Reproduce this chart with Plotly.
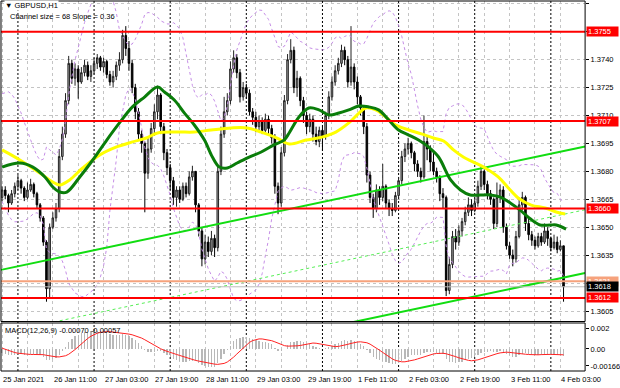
import numpy as np
import pandas as pd
import plotly.graph_objects as go

W, H = 620, 388
BASE = 1.3600
PIP = 0.0001
FONT = "Liberation Sans"

# ---------------- data (pips above 1.3600), hourly bars 25 Jan 19:00 .. 4 Feb 04:00
first_open_pips = 66
close_pips = [70, 67, 63, 68, 72, 75, 71, 66, 70, 73, 68, 62, 55, 42, 17, 50, 55, 60, 88, 100,
              118, 138, 130, 135, 128, 133, 137, 131, 134, 138, 141, 136, 139, 132, 128, 131, 137, 140, 153, 146,
              138, 125, 112, 100, 95, 79, 92, 103, 112, 121, 104, 90, 82, 75, 66, 70, 65, 72, 68, 77,
              80, 62, 48, 33, 42, 37, 44, 39, 80, 100, 112, 118, 135, 141, 133, 120, 125, 122, 112, 109,
              104, 107, 102, 108, 103, 98, 72, 63, 90, 118, 140, 145, 125, 130, 118, 110, 104, 108, 100, 96,
              102, 99, 110, 120, 128, 134, 138, 145, 140, 128, 136, 128, 120, 114, 104, 78, 66, 60, 70, 66,
              72, 63, 60, 59, 67, 75, 88, 92, 95, 90, 84, 80, 77, 96, 92, 85, 80, 77, 68, 66,
              16, 30, 45, 42, 48, 53, 58, 62, 59, 63, 72, 80, 73, 68, 65, 52, 66, 70, 50, 40,
              35, 33, 45, 62, 66, 52, 46, 43, 40, 45, 42, 48, 44, 39, 42, 38, 40, 18]
high_pips = [72, 72, 68, 70, 74, 78, 76, 72, 74, 76, 74, 69, 63, 56, 43, 52, 58, 63, 92, 104,
             122, 142, 140, 138, 137, 136, 140, 139, 137, 141, 143, 142, 141, 140, 134, 134, 139, 144, 156, 158,
             150, 140, 127, 114, 102, 96, 98, 106, 116, 126, 122, 106, 92, 84, 77, 72, 72, 74, 74, 80,
             83, 80, 63, 50, 46, 45, 48, 46, 83, 104, 120, 122, 139, 145, 143, 135, 128, 127, 124, 114,
             112, 110, 109, 111, 110, 105, 100, 74, 93, 121, 143, 151, 147, 134, 131, 120, 112, 111, 110, 104,
             104, 104, 112, 123, 131, 137, 141, 148, 147, 142, 158, 138, 131, 121, 115, 106, 80, 68, 73, 72,
             84, 73, 65, 63, 69, 77, 91, 95, 98, 96, 91, 86, 82, 110, 99, 94, 90, 82, 78, 71,
             67, 34, 48, 49, 51, 55, 61, 66, 65, 66, 75, 83, 81, 75, 70, 66, 74, 73, 72, 52,
             42, 38, 48, 66, 69, 67, 55, 48, 45, 47, 47, 52, 50, 45, 46, 45, 43, 40]
low_pips = [64, 65, 58, 62, 66, 70, 68, 64, 65, 69, 66, 60, 53, 40, 10, 12, 49, 53, 58, 86,
            98, 116, 127, 126, 119, 127, 131, 129, 128, 132, 135, 134, 133, 130, 126, 125, 129, 134, 138, 142,
            134, 122, 108, 97, 90, 58, 76, 90, 99, 108, 100, 86, 78, 70, 62, 61, 63, 64, 66, 67,
            75, 58, 45, 29, 30, 34, 35, 34, 37, 78, 98, 110, 116, 133, 130, 117, 118, 119, 110, 105,
            101, 102, 100, 101, 100, 95, 68, 57, 61, 88, 116, 138, 122, 120, 115, 106, 100, 101, 96, 94,
            93, 91, 97, 108, 118, 126, 132, 136, 137, 125, 126, 124, 116, 110, 100, 74, 63, 55, 58, 62,
            64, 60, 56, 56, 58, 65, 73, 85, 89, 87, 80, 77, 74, 76, 86, 80, 78, 74, 64, 60,
            13, 14, 28, 38, 40, 45, 51, 56, 56, 58, 61, 70, 70, 65, 62, 49, 50, 63, 47, 38,
            33, 29, 31, 44, 59, 48, 43, 40, 38, 39, 40, 41, 40, 37, 38, 36, 37, 10]
# closes before the visible window (estimated from where the indicators start)
prior_close_pips = [72, 74, 70, 76, 80, 78, 82, 86, 84, 90, 94, 98, 96, 104, 108, 112, 110, 112, 108, 104,
                    100, 96, 92, 88, 84, 80, 77, 75, 72, 69]

# moving averages: (bar index, pips)
green_ma_idx = [0, 5.6, 9.7, 13.5, 16, 18.2, 20.4, 24.5, 28.6, 33, 37, 41.1, 44.9, 49, 51.2, 54.3, 57.5, 60.6,
                63.8, 66.3, 68.5, 71, 74.1, 77.9, 81.7, 85.7, 88.9, 90.5, 93.6, 96.7, 99.9, 103, 106.2, 109.3,
                112.5, 115.6, 118.7, 121.9, 125, 128.2, 131.3, 134.4, 137.6, 141.4, 144.5, 147.6, 150.8, 153.9,
                157.1, 160.2, 163.3, 166.5, 169.6, 172.8, 174.7, 177.8]
green_ma_pips = [82.3, 84.5, 82.3, 77.0, 71.6, 68.9, 68.9, 77.0, 86.1, 96.8, 106.0, 114.6, 119.9, 125.3, 122.6,
                 118.3, 111.3, 104.9, 96.8, 87.7, 82.3, 81.8, 84.5, 87.7, 90.4, 94.2, 96.8, 100.6, 109.2, 114.0,
                 113.0, 110.3, 111.3, 113.0, 115.1, 114.6, 113.0, 107.6, 102.2, 99.5, 96.8, 93.1, 87.7, 75.4,
                 70.0, 67.3, 67.3, 67.3, 66.2, 63.0, 59.2, 54.5, 51.2, 51.2, 51.2, 49.0]
yellow_ma_idx = [0, 5.6, 11.9, 16, 18.2, 21.3, 25.4, 30.8, 36.1, 41.1, 45.5, 49, 55.3, 60.6, 65.9, 72.2, 77.3,
                 81.7, 86.7, 90.5, 95.8, 100.8, 105.2, 109.3, 112.5, 114.6, 117.8, 120.9, 124.1, 128.2, 132.2,
                 136, 139.2, 142.3, 145.4, 148.6, 152.3, 156.4, 159.6, 162.7, 166.8, 171.2, 174.7, 177.5]
yellow_ma_pips = [91.5, 86.1, 79.1, 74.3, 72.7, 75.4, 81.8, 88.8, 93.1, 95.8, 97.9, 100.6, 101.1, 101.1, 102.2,
                  103.3, 103.3, 101.1, 97.9, 94.7, 96.8, 98.4, 101.1, 106.0, 111.3, 114.0, 113.0, 109.2, 104.9,
                  102.2, 100.1, 97.9, 96.3, 91.5, 87.7, 85.0, 81.8, 77.0, 71.1, 65.7, 61.9, 60.3, 58.2, 57.1]

# time axis
tick_idx = [0, 16, 32, 48, 64, 80, 96, 112, 128, 144, 160, 176]
tick_text = ["25 Jan 2021", "26 Jan 11:00", "27 Jan 03:00", "27 Jan 19:00", "28 Jan 11:00", "29 Jan 03:00",
             "29 Jan 19:00", "1 Feb 11:00", "2 Feb 03:00", "2 Feb 19:00", "3 Feb 11:00", "4 Feb 03:00"]
day_sep_idx = [5, 29, 53, 77, 101, 125, 149, 173]
grid_idx = list(range(0, 184, 8))

# levels and channel
red_levels = [1.3755, 1.3707, 1.3660, 1.3612]
orange_level = 1.3621
bid_price = 1.3618
price_ticks = [1.3605, 1.3620, 1.3635, 1.3650, 1.3665, 1.3680, 1.3695, 1.3710, 1.3725, 1.3740, 1.3755, 1.3770]
hidden_price_labels = [1.3620, 1.3755]   # covered by the level boxes in the chart
channel_top_at_start = 1.36272
channel_slope_pips = 0.36
channel_size_pips = 68
macd_ticks = [0.002, 0.0, -0.00166]
macd_ticktext = ["0.002", "0.00", "-0.00166"]
macd_label = "MACD(12,26,9) -0.00070 -0.00057"

# ---------------- derived
n = len(close_pips)
idx = np.arange(n)
close = BASE + np.array(close_pips) * PIP
high = BASE + np.array(high_pips) * PIP
low = BASE + np.array(low_pips) * PIP
open_ = np.concatenate([[BASE + first_open_pips * PIP], close[:-1]])

allc = pd.Series(np.concatenate([BASE + np.array(prior_close_pips) * PIP, close]))
m = len(prior_close_pips)
mid = allc.rolling(20).mean()
sd = allc.rolling(20).std(ddof=0)
bb_up = (mid + 2 * sd).values[m:]
bb_lo = (mid - 2 * sd).values[m:]
ema12 = allc.ewm(span=12, adjust=False).mean()
ema26 = allc.ewm(span=26, adjust=False).mean()
macd = ema12 - ema26
signal = macd.rolling(9).mean()
macd_v = macd.values[m:]
sig_v = signal.values[m:]

X_RANGE = [-0.34, 183.8]
ch_x = np.array([X_RANGE[0], X_RANGE[1]])
ch_top = channel_top_at_start + ch_x * channel_slope_pips * PIP
ch_bot = ch_top - channel_size_pips * PIP
ch_mid = ch_top - channel_size_pips / 2 * PIP


def px(v):
    return v / W


def py(v):
    return 1 - v / H


GRID = "#c4c4c4"
fig = go.Figure()

fig.add_trace(go.Scatter(x=idx, y=bb_up, mode="lines", line=dict(color="#c58ee6", width=1, dash="dot"),
                         hoverinfo="skip"))
fig.add_trace(go.Scatter(x=idx, y=bb_lo, mode="lines", line=dict(color="#c58ee6", width=1, dash="dot"),
                         hoverinfo="skip"))
fig.add_trace(go.Candlestick(x=idx, open=open_, high=high, low=low, close=close, whiskerwidth=0,
                             increasing=dict(line=dict(color="#222222", width=1), fillcolor="#a9a9a9"),
                             decreasing=dict(line=dict(color="#000000", width=1), fillcolor="#000000")))
fig.add_trace(go.Scatter(x=ch_x, y=ch_mid, mode="lines", line=dict(color="#55ee55", width=1, dash="dot")))
fig.add_trace(go.Scatter(x=ch_x, y=ch_top, mode="lines", line=dict(color="#11dd11", width=2)))
fig.add_trace(go.Scatter(x=ch_x, y=ch_bot, mode="lines", line=dict(color="#11dd11", width=2)))
fig.add_trace(go.Scatter(x=yellow_ma_idx, y=BASE + np.array(yellow_ma_pips) * PIP, mode="lines",
                         line=dict(color="#ffff00", width=3, shape="spline")))
fig.add_trace(go.Scatter(x=green_ma_idx, y=BASE + np.array(green_ma_pips) * PIP, mode="lines",
                         line=dict(color="#0a7d0a", width=3, shape="spline")))

fig.add_trace(go.Bar(x=idx, y=macd_v, marker=dict(color="#b8b8b8", line=dict(width=0)), width=0.42,
                     xaxis="x2", yaxis="y2"))
fig.add_trace(go.Scatter(x=idx, y=sig_v, mode="lines", line=dict(color="#ff2222", width=1),
                         xaxis="x2", yaxis="y2"))

shapes = []
for d in day_sep_idx:
    shapes.append(dict(type="line", xref="x", yref="paper", x0=d, x1=d, y0=py(371), y1=py(1),
                       line=dict(color="black", width=1, dash="2px,2px"), layer="below"))
shapes.append(dict(type="line", xref="paper", yref="y", x0=px(1), x1=px(587), y0=bid_price, y1=bid_price,
                   line=dict(color="#bdbdbd", width=1)))
shapes.append(dict(type="line", xref="paper", yref="y", x0=px(1), x1=px(587), y0=orange_level, y1=orange_level,
                   line=dict(color="#f6a27c", width=2)))
for lv in red_levels:
    shapes.append(dict(type="line", xref="paper", yref="y", x0=px(1), x1=px(587), y0=lv, y1=lv,
                       line=dict(color="#ff0000", width=2)))
shapes.append(dict(type="rect", xref="paper", yref="paper", x0=px(1), x1=px(587), y0=py(321.5), y1=py(1),
                   line=dict(color="black", width=1)))
shapes.append(dict(type="rect", xref="paper", yref="paper", x0=px(1), x1=px(587), y0=py(371), y1=py(323),
                   line=dict(color="black", width=1)))

ann = []
fs = 7.5
ann.append(dict(text="▼ GBPUSD,H1", xref="paper", yref="paper", x=px(4), y=py(6), xanchor="left",
                yanchor="middle", showarrow=False, bgcolor="white", borderpad=0,
                font=dict(size=fs, color="black", family=FONT)))
ann.append(dict(text=f"Channel size = {channel_size_pips} Slope = {channel_slope_pips}", xref="paper",
                yref="paper", x=px(8), y=py(17), xanchor="left", yanchor="middle", showarrow=False,
                font=dict(size=fs, color="black", family=FONT)))
ann.append(dict(text=macd_label, xref="paper", yref="paper", x=px(3), y=py(330), xanchor="left",
                yanchor="middle", showarrow=False, font=dict(size=fs, color="black", family=FONT)))
for t, s in zip(tick_idx, tick_text):
    ann.append(dict(text=s, xref="x2", yref="paper", x=t, y=py(379), xanchor="left", yanchor="middle",
                    showarrow=False, xshift=-1, font=dict(size=fs, color="black", family=FONT)))


def box(level, color):
    return dict(text=f"{level:.4f}", xref="paper", yref="y", x=px(588), y=level, xanchor="left",
                yanchor="middle", showarrow=False, bgcolor=color, width=29, height=7, borderpad=1,
                align="left", font=dict(size=fs, color="white", family=FONT))


for lv in red_levels:
    ann.append(box(lv, "#ff0000"))
ann.append(box(orange_level, "#f6a27c"))
ann.append(box(bid_price, "#000000"))

price_ticktext = ["" if any(abs(v - h) < 1e-9 for h in hidden_price_labels) else f"{v:.4f}" for v in price_ticks]

axis_font = dict(size=fs, color="black", family=FONT)
fig.update_layout(
    width=W, height=H, margin=dict(l=0, r=0, t=0, b=0), paper_bgcolor="white", plot_bgcolor="white",
    showlegend=False, bargap=0,
    xaxis=dict(domain=[px(1), px(587)], range=X_RANGE, anchor="y", tickvals=grid_idx, showticklabels=False,
               showgrid=True, gridcolor=GRID, griddash="3px,3px", gridwidth=1, zeroline=False, ticks="",
               rangeslider=dict(visible=False), showline=False, fixedrange=True),
    yaxis=dict(domain=[py(321.5), py(1)], range=[1.359936, 1.377149], side="right", tickvals=price_ticks,
               ticktext=price_ticktext, showgrid=True, gridcolor=GRID, griddash="3px,3px",
               tickfont=axis_font, ticks="outside", ticklen=3, tickcolor="black", showline=False,
               zeroline=False, anchor="x"),
    xaxis2=dict(domain=[px(1), px(587)], range=X_RANGE, anchor="y2", tickvals=grid_idx, showticklabels=False,
                showgrid=True, gridcolor=GRID, griddash="3px,3px", zeroline=False, ticks="", showline=False),
    yaxis2=dict(domain=[py(371), py(323)], range=[-0.00216, 0.00255], side="right", tickvals=macd_ticks,
                ticktext=macd_ticktext, showgrid=False, tickfont=axis_font, ticks="outside", ticklen=3,
                tickcolor="black", zeroline=False, anchor="x2"),
    shapes=shapes, annotations=ann,
)

fig.write_html("out.html", config={"displayModeBar": False, "staticPlot": True},
               post_script="document.body.style.margin='0';document.body.style.padding='0';")
